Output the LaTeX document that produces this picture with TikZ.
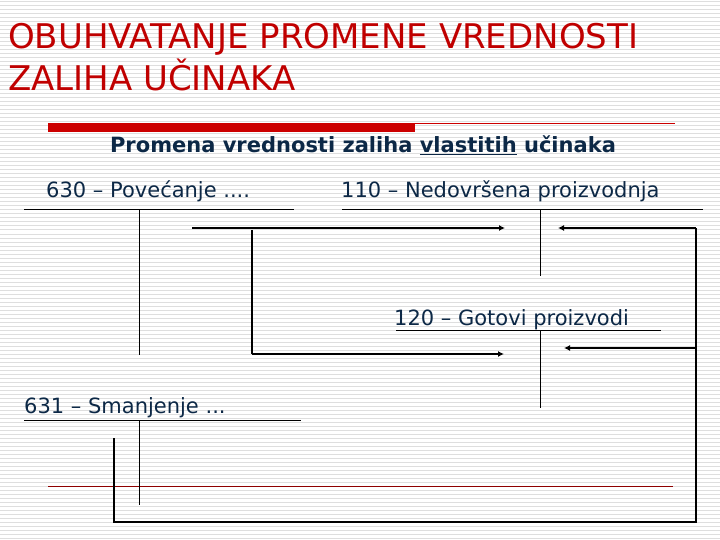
\documentclass[tikz,border=0pt]{standalone}
\usepackage{fontspec}
\setmainfont{DejaVu Sans}
\usetikzlibrary{arrows.meta}
\definecolor{naslov}{RGB}{192,0,0}
\definecolor{tekst}{RGB}{12,40,70}
\definecolor{pruga}{RGB}{222,222,222}
\definecolor{traka}{RGB}{204,0,0}

\begin{document}
\begin{tikzpicture}[x=1pt,y=-1pt,
    every node/.style = {inner sep = 0pt, text = tekst},
    naslov/.style = {anchor = base west, text = naslov, font = \fontsize{34}{40}\selectfont},
    konto/.style = {anchor = base west, font = \fontsize{21}{25}\selectfont},
    tline/.style = {black, line width = 1pt},
    veza/.style = {black, line width = 1.3pt},
    tok/.style = {black, line width = 2.5pt, -{Latex[length=6pt,width=6pt]}}]
		\useasboundingbox (0,0) rectangle (720,540);
		\fill[white] (0,0) rectangle (720,540);
		\foreach \y in {2,6,...,540}
			\draw[pruga, line width = 1pt] (0,\y) -- (720,\y);
		\node[naslov] (nas1) at (8,49) {OBUHVATANJE PROMENE VREDNOSTI};
		\node[naslov] (nas2) at (8,91) {ZALIHA UČINAKA};
		\fill[traka] (48,123) rectangle (415,132);
		\draw[traka, line width = 1pt] (415,124) -- (675,124);
		\draw[traka!70!black, line width = 0.8pt] (48,486) -- (673,486);
		\node[anchor = base, font = \bfseries\fontsize{21}{25}\selectfont] (podn) at (363,153)
			{Promena vrednosti zaliha \underline{vlastitih} učinaka};
		\node[konto] (k630) at (46,197) {630 – Povećanje ....};
		\node[konto] (k110) at (341,197) {110 – Nedovršena proizvodnja};
		\node[konto] (k120) at (394,325) {120 – Gotovi proizvodi};
		\node[konto] (k631) at (24,413) {631 – Smanjenje ...};
		\draw[tline] (24,210) -- (294,210) (139,210) -- (139,355);
		\draw[tline] (342,210) -- (703,210) (540,210) -- (540,276);
		\draw[tline] (396,330) -- (661,330) (540,330) -- (540,408);
		\draw[tline] (24,420) -- (301,420) (139,420) -- (139,505);
		\coordinate (p1) at (192,228);
		\coordinate (n1) at (505,228);
		\coordinate (p2) at (252,230);
		\coordinate (p3) at (252,354);
		\coordinate (g1) at (504,354);
		\coordinate (s1) at (114,438);
		\coordinate (d1) at (696,522);
		\coordinate (d0) at (696,228);
		\coordinate (n2) at (558,228);
		\coordinate (d2) at (696,348);
		\coordinate (g2) at (564,348);
		\draw[tok] (p1) -- (n1);
		\draw[veza] (p2) -- (p3);
		\draw[tok] (p3) -- (g1);
		\draw[veza] (s1) |- (d1) -- (d0);
		\draw[tok] (d0) -- (n2);
		\draw[tok] (d2) -- (g2);
\end{tikzpicture}
\end{document}
